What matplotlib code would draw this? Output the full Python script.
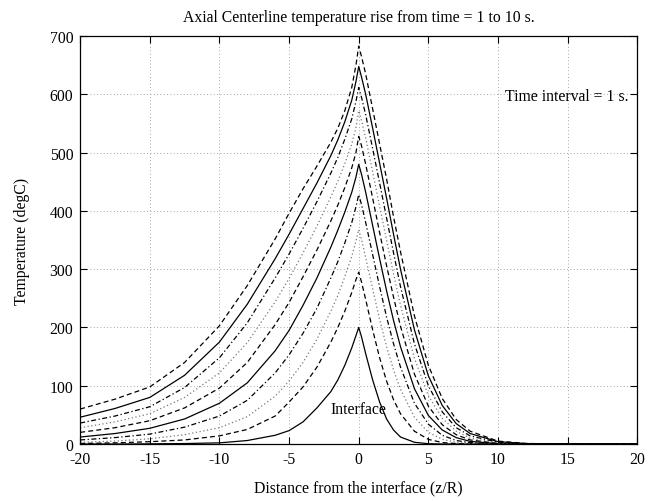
import numpy as np
import matplotlib.pyplot as plt

plt.rcParams.update({'font.family': 'serif', 'font.serif': ['Liberation Serif', 'DejaVu Serif'],
                     'axes.unicode_minus': False, 'font.size': 11.3})

# distance from the interface (z/R)
z = [-20, -17.5, -15, -12.5, -10, -8, -6, -5, -4, -3, -2, -1.5, -1, -0.5, -0.2, 0,
     0.2, 0.5, 1, 1.5, 2, 2.5, 3, 4, 5, 6, 7, 8, 10, 12, 15, 20]

# temperature rise (degC), time = 1 .. 10 s
t1 = [0, 0, 0.3, 0.8, 2, 6, 15, 23, 38, 62, 90, 110, 135, 165, 186, 200,
      184, 155, 110, 72, 43, 24, 12, 3, 0.5, 0, 0, 0, 0, 0, 0, 0]
t2 = [1, 2, 4, 7, 14, 25, 48, 72, 98, 132, 175, 200, 228, 260, 282, 295,
      278, 248, 196, 148, 108, 76, 52, 22, 8, 2.5, 0.8, 0.2, 0, 0, 0, 0]
t3 = [3, 5, 9, 16, 28, 47, 82, 108, 140, 180, 228, 255, 287, 322, 348, 368,
      351, 320, 266, 214, 167, 127, 94, 46, 20, 8, 3, 1, 0, 0, 0, 0]
t4 = [7, 11, 17, 29, 48, 75, 122, 153, 190, 233, 285, 313, 345, 380, 407, 428,
      411, 380, 325, 270, 218, 172, 132, 70, 34, 15, 6, 2.5, 0.3, 0, 0, 0]
t5 = [12, 18, 27, 43, 70, 105, 160, 195, 238, 285, 338, 367, 398, 432, 458, 480,
      463, 432, 375, 318, 263, 212, 167, 95, 49, 24, 11, 4.5, 0.7, 0, 0, 0]
t6 = [20, 28, 40, 62, 96, 140, 205, 243, 287, 333, 383, 410, 440, 474, 500, 528,
      512, 480, 422, 363, 306, 252, 202, 120, 65, 33, 16, 7, 1, 0, 0, 0]
t7 = [28, 38, 52, 80, 122, 174, 244, 284, 328, 374, 424, 451, 481, 515, 543, 572,
      555, 525, 467, 408, 350, 292, 238, 147, 83, 44, 22, 10, 2, 0.3, 0, 0]
t8 = [36, 48, 64, 97, 148, 208, 285, 326, 370, 416, 465, 492, 523, 558, 588, 612,
      595, 565, 507, 448, 388, 328, 270, 172, 100, 55, 28, 14, 3, 0.5, 0, 0]
t9 = [46, 61, 80, 118, 175, 240, 318, 360, 404, 448, 495, 522, 553, 590, 622, 648,
      630, 600, 542, 482, 422, 360, 300, 196, 117, 66, 35, 18, 4, 0.8, 0, 0]
t10 = [60, 77, 98, 140, 203, 272, 352, 396, 438, 477, 518, 542, 572, 612, 650, 683,
       665, 635, 575, 515, 455, 390, 330, 220, 135, 78, 42, 22, 5, 1, 0, 0]
curves = [t1, t2, t3, t4, t5, t6, t7, t8, t9, t10]

# matlab default line style order: - -- : -.
styles = ['-', (0, (4, 2.5)), (0, (1, 2)), (0, (4, 2, 1, 2))]

fig = plt.figure(figsize=(6.57, 5.02), dpi=100)
ax = fig.add_axes([0.122, 0.1135, 0.848, 0.8125])
for i, temp in enumerate(curves):
    ls = styles[i % 4]
    color = '#777777' if i % 4 == 2 else 'black'
    ax.plot(z, temp, color=color, linestyle=ls, linewidth=0.9)

ax.set_xlim(-20, 20)
ax.set_ylim(0, 700)
ax.set_xticks(range(-20, 21, 5))
ax.set_yticks(range(0, 701, 100))
ax.grid(True, color='#888888', linestyle=(0, (1, 3)), linewidth=0.6)
ax.tick_params(direction='in', length=5, top=True, right=True, width=0.8, pad=5)
for s in ax.spines.values():
    s.set_linewidth(0.9)

ax.text(0, 60, 'Interface', ha='center', va='center')
ax.text(19.4, 597, 'Time interval = 1 s.', ha='right', va='center')
ax.set_title('Axial Centerline temperature rise from time = 1 to 10 s.', fontsize=11.3, pad=11)
ax.set_xlabel('Distance from the interface (z/R)', labelpad=9)
ax.set_ylabel('Temperature (degC)', labelpad=14)

fig.savefig('out.png', dpi=100)
